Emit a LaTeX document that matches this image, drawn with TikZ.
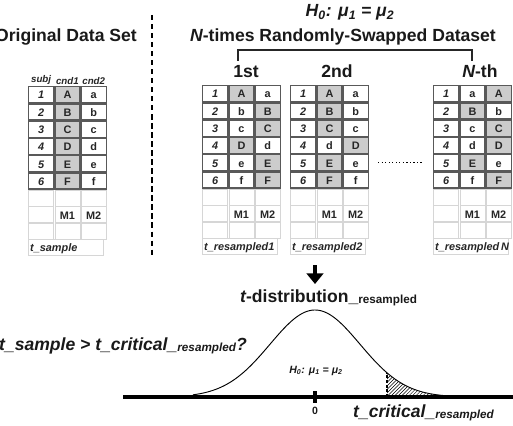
\documentclass[tikz,border=0pt]{standalone}
\usepackage{fontspec}
\setmainfont{Liberation Sans}
\usetikzlibrary{matrix,positioning,arrows.meta,patterns}

\newcommand\cellfont{\fontsize{9.3}{11}\selectfont\bfseries}
\newcommand\headfont{\fontsize{15}{18}\selectfont\bfseries}
\newcommand\resamp{\raisebox{-1pt}{\fontsize{10}{12}\selectfont resampled}}
\newcommand\nullhyp{H\textsubscript{0}: μ\textsubscript{1} = μ\textsubscript{2}}

\begin{document}
\begin{tikzpicture}[
    x=0.03cm, y=-0.03cm,
    cell/.style={draw=black!65, line width=1.1pt, minimum width=0.75cm, minimum height=0.48cm, inner sep=0pt, outer sep=0pt, anchor=center, text height=1.6ex, text depth=0.2ex, font=\cellfont, text=black!85},
    blankrow/.style={draw=black!16, line width=0.6pt},
    swapcell/.style={fill=gray!40},
    datatable/.style={matrix of nodes, nodes in empty cells, inner sep=0pt, outer sep=0pt, column sep=0pt, row sep=0pt, anchor=north west, nodes={cell},
        column 1/.style={nodes={font=\cellfont\itshape}},
        row 7/.style={nodes={blankrow}}, row 8/.style={nodes={blankrow}}, row 9/.style={nodes={blankrow}}},
    darkframe/.style={draw=black!65, line width=1.1pt},
    tlabel/.style={cell, blankrow, anchor=north west, minimum width=2.25cm, text width=2.16cm, align=left, font=\cellfont\itshape},
    colhead/.style={font=\fontsize{8.3}{10}\selectfont\bfseries\itshape, inner sep=0pt, text=black!85},
    headtext/.style={font=\headfont, inner sep=0pt, text=black!90},
    smalltext/.style={font=\fontsize{9}{11}\selectfont\bfseries, inner sep=0pt, text=black!90},
    divider/.style={line width=1.7pt, dash pattern=on 4.5pt off 3.2pt},
    bracket/.style={line width=1pt, black!85},
    dots/.style={line width=1pt, dash pattern=on 1pt off 2pt},
    bigarrow/.style={line width=4pt, -{Triangle[width=14pt,length=9pt]}},
    axis/.style={line width=2.6pt},
    curve/.style={line width=0.8pt},
    critline/.style={line width=1.2pt, dash pattern=on 2.5pt off 1.5pt}
]
\useasboundingbox (0,0) rectangle (513,425);

% titles
\node[headtext, anchor=base east] (origtitle) at (137,42) {Original Data Set};
\node[headtext, anchor=base] (nulltitle) at (350,17) {\itshape\nullhyp};
\node[headtext, anchor=base] (swaptitle) at (343,42) {{\itshape N}-times Randomly-Swapped Dataset};
\node[headtext, anchor=base] (first) at (246,78) {1st};
\node[headtext, anchor=base] (second) at (337,78) {2nd};
\node[headtext, anchor=base] (nth) at (480,78) {{\itshape N}-th};

\coordinate (brl) at (238,61);
\coordinate (brr) at (472,61);
\draw[bracket] (brl) -- ++(0,-11) -| (brr);

\coordinate (divtop) at (152,15);
\coordinate (divbot) at (152,256);
\draw[divider] (divtop) -- (divbot);

% original data
\matrix (orig) [datatable] at (28,86) {
  1 & |[swapcell]| A & a \\
  2 & |[swapcell]| B & b \\
  3 & |[swapcell]| C & c \\
  4 & |[swapcell]| D & d \\
  5 & |[swapcell]| E & e \\
  6 & |[swapcell]| F & f \\
    &    &    \\
    & M1 & M2 \\
    &    &    \\
};
\node[tlabel] (origlabel) at (orig-9-1.south west) {t\_sample};
\draw[darkframe] (orig-1-1.north west) rectangle (orig-6-3.south east);
\node[colhead, above=1.5pt of orig-1-1] (hsubj) {subj};
\node[colhead, above=1.5pt of orig-1-2] (hcnd1) {cnd1};
\node[colhead, above=1.5pt of orig-1-3] (hcnd2) {cnd2};

% resampled sets
\matrix (tab1) [datatable] at (202,85) {
  1 & |[swapcell]| A & a \\
  2 & b & |[swapcell]| B \\
  3 & c & |[swapcell]| C \\
  4 & |[swapcell]| D & d \\
  5 & e & |[swapcell]| E \\
  6 & f & |[swapcell]| F \\
    &    &    \\
    & M1 & M2 \\
    &    &    \\
};
\node[tlabel] (tab1label) at (tab1-9-1.south west) {t\_resampled1};
\draw[darkframe] (tab1-1-1.north west) rectangle (tab1-6-3.south east);

\matrix (tab2) [datatable] at (290,85) {
  1 & |[swapcell]| A & a \\
  2 & |[swapcell]| B & b \\
  3 & |[swapcell]| C & c \\
  4 & d & |[swapcell]| D \\
  5 & |[swapcell]| E & e \\
  6 & |[swapcell]| F & f \\
    &    &    \\
    & M1 & M2 \\
    &    &    \\
};
\node[tlabel] (tab2label) at (tab2-9-1.south west) {t\_resampled2};
\draw[darkframe] (tab2-1-1.north west) rectangle (tab2-6-3.south east);

\matrix (tabN) [datatable] at (433,85) {
  1 & a & |[swapcell]| A \\
  2 & |[swapcell]| B & b \\
  3 & c & |[swapcell]| C \\
  4 & d & |[swapcell]| D \\
  5 & |[swapcell]| E & e \\
  6 & f & |[swapcell]| F \\
    &    &    \\
    & M1 & M2 \\
    &    &    \\
};
\node[tlabel] (tabNlabel) at (tabN-9-1.south west) {t\_resampled\,N};
\draw[darkframe] (tabN-1-1.north west) rectangle (tabN-6-3.south east);

\draw[dots, shorten <=0.3cm, shorten >=0.33cm] (tab2-5-3.east) -- (tabN-5-1.west);

% resampled t-distribution
\node[headtext, anchor=base west] (tdist) at (240,302) {{\itshape t}-distribution\_\resamp};
\coordinate (arrowtop) at (315,265);
\draw[bigarrow, shorten >=0.15cm] (arrowtop) -- (arrowtop |- tdist.north);

\fill[pattern=north east lines] (387,397) -- plot[domain=387:443, samples=40] (\x, {397-87*exp(-((\x-315)/45)*((\x-315)/45)/2)}) -- cycle;
\draw[curve] plot[domain=193:443, samples=100] (\x, {397-87*exp(-((\x-315)/45)*((\x-315)/45)/2)});

\coordinate (crit) at (387,397);
\draw[critline] (crit) -- ++(0,-24);

\coordinate (axl) at (123,397);
\coordinate (axr) at (513,397);
\draw[axis] (axl) -- (axr);

\node[smalltext, anchor=base] (zero) at (315,414) {0};
\draw[axis] (315,391) -- (315,403);
\node[smalltext, anchor=base, font=\fontsize{9}{11}\selectfont\bfseries\itshape] (hyp) at (316,373) {\nullhyp};

\node[headtext, anchor=base west, font=\headfont\itshape] (tcrit) at (353,417) {t\_critical\_\resamp};
\node[headtext, anchor=base east, font=\headfont\itshape] (question) at (247,350) {t\_sample > t\_critical\_\resamp?};
\end{tikzpicture}
\end{document}
